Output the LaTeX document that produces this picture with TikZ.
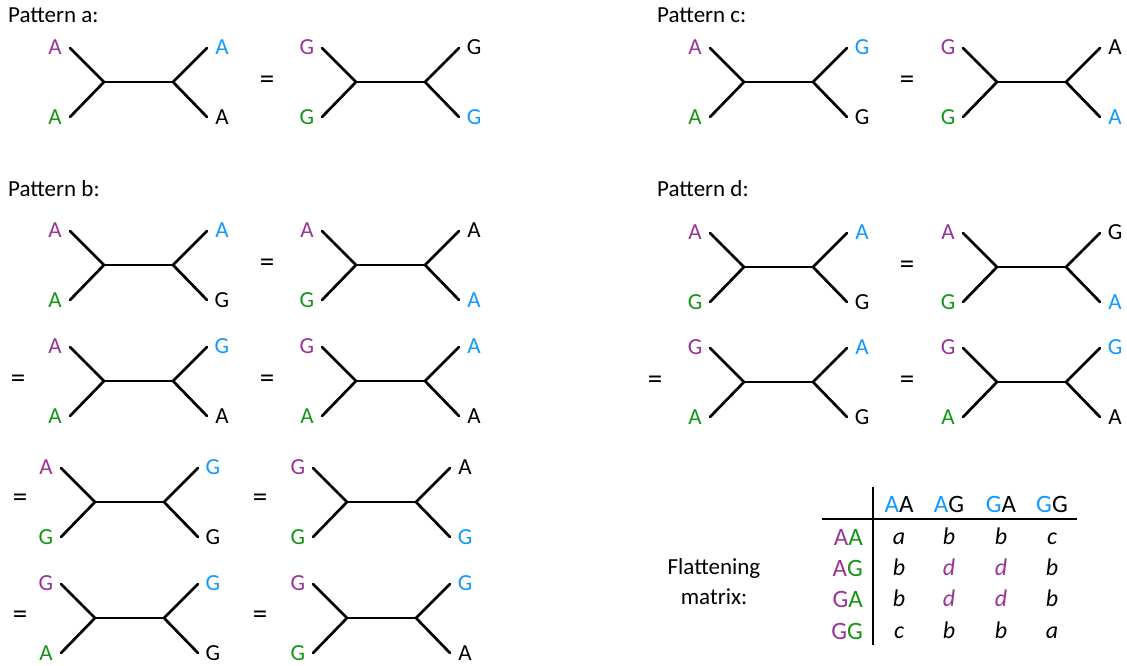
\documentclass[tikz,border=0pt]{standalone}
\usepackage{fontspec}
\setmainfont{Carlito}
\definecolor{pur}{RGB}{153,51,153}
\definecolor{grn}{RGB}{20,150,20}
\definecolor{blu}{RGB}{17,153,255}
\newcommand\Pu[1]{\textcolor{pur}{#1}}
\newcommand\Gr[1]{\textcolor{grn}{#1}}
\newcommand\Bl[1]{\textcolor{blu}{#1}}
\tikzset{
  branch/.style={line width=2.7pt, line cap=round, line join=round},
  leaf/.style={inner sep=0pt, font=\fontsize{23}{27}\selectfont},
  eqsign/.style={inner sep=0pt, font=\fontsize{29}{32}\selectfont},
  title/.style={inner sep=0pt, anchor=base west, font=\fontsize{23}{27}\selectfont},
  cell/.style={inner sep=0pt, anchor=base, font=\fontsize{25}{29}\selectfont},
  rule/.style={line width=1.6pt},
}
% four-leaf unrooted tree: #1,#2 left inner vertex, #3 name, #4-#7 leaf labels (TL, BL, TR, BR)
\newcommand\phylo[7]{%
  \path (#1,#2) coordinate (#3-l)
    +(69,0) coordinate (#3-r)
    +(-34,-34) coordinate (#3-tl)
    +(-34,35) coordinate (#3-bl)
    +(103,-34) coordinate (#3-tr)
    +(103,35) coordinate (#3-br)
    +(-49,-35) node[leaf] (#3-TL) {#4}
    +(-49,35) node[leaf] (#3-BL) {#5}
    +(118,-35) node[leaf] (#3-TR) {#6}
    +(118,35) node[leaf] (#3-BR) {#7};
  \draw[branch] (#3-tl) -- (#3-l) -- (#3-bl);
  \draw[branch] (#3-l) -- (#3-r);
  \draw[branch] (#3-tr) -- (#3-r) -- (#3-br);
}
\begin{document}
\begin{tikzpicture}[x=1pt,y=-1pt]
\useasboundingbox (0,0) rectangle (1127,666);

% headings
\node[title] (ta) at (8,23) {Pattern a:};
\node[title] (tb) at (8,196) {Pattern b:};
\node[title] (tc) at (657,23) {Pattern c:};
\node[title] (td) at (657,196) {Pattern d:};

% pattern a
\phylo{104}{82}{a1}{\Pu{A}}{\Gr{A}}{\Bl{A}}{A}
\node[eqsign] (ea1) at (267,82) {=};
\phylo{356}{82}{a2}{\Pu{G}}{\Gr{G}}{G}{\Bl{G}}

% pattern c
\phylo{744}{82}{c1}{\Pu{A}}{\Gr{A}}{\Bl{G}}{G}
\node[eqsign] (ec1) at (907,82) {=};
\phylo{997}{82}{c2}{\Pu{G}}{\Gr{G}}{A}{\Bl{A}}

% pattern b
\phylo{104}{265}{b1}{\Pu{A}}{\Gr{A}}{\Bl{A}}{G}
\node[eqsign] (eb1) at (267,265) {=};
\phylo{356}{265}{b2}{\Pu{A}}{\Gr{G}}{A}{\Bl{A}}

\node[eqsign] (eb2) at (18,381) {=};
\phylo{104}{381}{b3}{\Pu{A}}{\Gr{A}}{\Bl{G}}{A}
\node[eqsign] (eb3) at (267,381) {=};
\phylo{356}{381}{b4}{\Pu{G}}{\Gr{A}}{\Bl{A}}{A}

\node[eqsign] (eb4) at (20,500) {=};
\phylo{95}{502}{b5}{\Pu{A}}{\Gr{G}}{\Bl{G}}{G}
\node[eqsign] (eb5) at (260,500) {=};
\phylo{347}{502}{b6}{\Pu{G}}{\Gr{G}}{A}{\Bl{G}}

\node[eqsign] (eb6) at (20,617) {=};
\phylo{95}{618}{b7}{\Pu{G}}{\Gr{A}}{\Bl{G}}{G}
\node[eqsign] (eb7) at (260,617) {=};
\phylo{347}{618}{b8}{\Pu{G}}{\Gr{G}}{\Bl{G}}{A}

% pattern d
\phylo{744}{267}{d1}{\Pu{A}}{\Gr{G}}{\Bl{A}}{G}
\node[eqsign] (ed1) at (907,267) {=};
\phylo{997}{267}{d2}{\Pu{A}}{\Gr{G}}{G}{\Bl{A}}

\node[eqsign] (ed2) at (655,382) {=};
\phylo{744}{382}{d3}{\Pu{G}}{\Gr{A}}{\Bl{A}}{G}
\node[eqsign] (ed3) at (907,382) {=};
\phylo{997}{382}{d4}{\Pu{G}}{\Gr{A}}{\Bl{G}}{A}

% flattening matrix
\node[inner sep=0pt, align=center, font=\fontsize{23}{30}\selectfont] (fl) at (714,582) {Flattening\\matrix:};

\foreach \lab/\x [count=\i] in {{\Bl{A}A}/899, {\Bl{A}G}/949, {\Bl{G}A}/1001, {\Bl{G}G}/1052}
  \node[cell] (h\i) at (\x,512) {\lab};
\foreach \lab/\y [count=\j] in {{\Pu{A}\Gr{A}}/537, {\Pu{A}\Gr{G}}/568, {\Pu{G}\Gr{A}}/599, {\Pu{G}\Gr{G}}/631}
  \node[cell, anchor=base east] (r\j) at (863,\y+8) {\lab};

\foreach \row/\y [count=\j] in {{a,b,b,c}/537, {b,\Pu{d},\Pu{d},b}/568, {b,\Pu{d},\Pu{d},b}/599, {c,b,b,a}/631}{
  \foreach \v [count=\i] in \row {
    \pgfmathsetmacro\xx{{899,949,1001,1052}[\i-1]}
    \node[cell, font=\fontsize{24}{28}\selectfont\itshape] (m\j\i) at (\xx,\y+7) {\v};
  }
}

\coordinate (vt) at (873,487);
\coordinate (vb) at (873,645);
\coordinate (hl) at (822,519);
\coordinate (hr) at (1077,519);
\draw[rule] (vt) -- (vb);
\draw[rule] (hl) -- (hr);
\end{tikzpicture}
\end{document}
